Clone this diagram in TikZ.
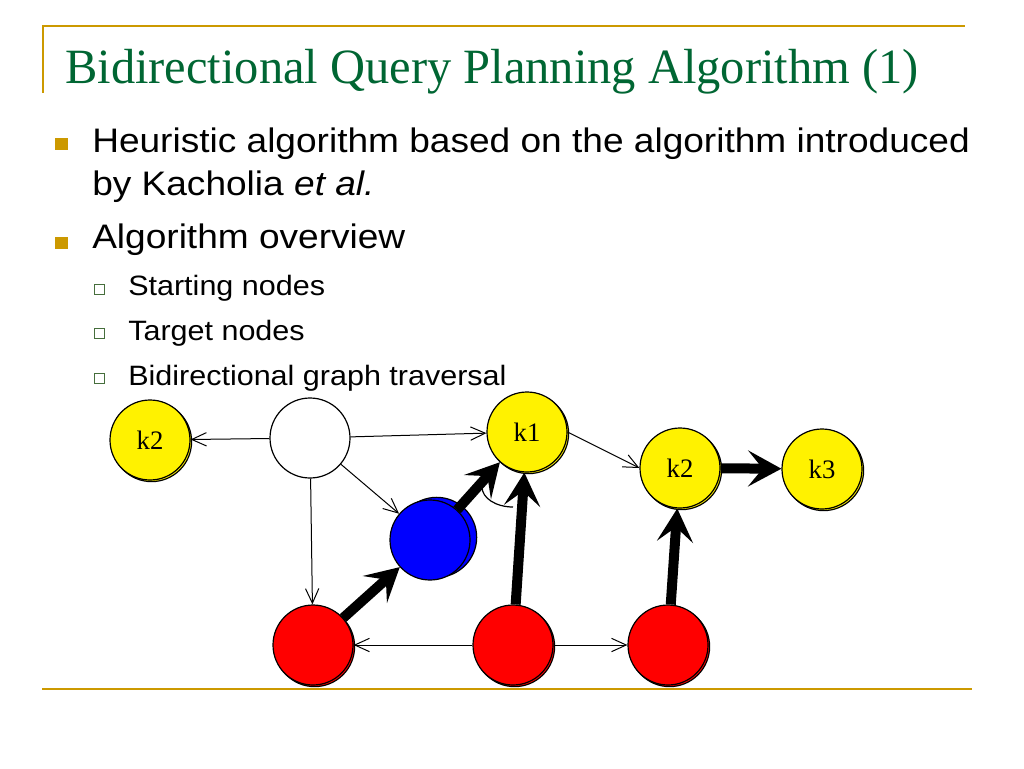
\documentclass[tikz,border=0pt]{standalone}
\usepackage{fontspec}
\setmainfont{Liberation Serif}
\newfontfamily\arialf{Liberation Sans}
\usetikzlibrary{arrows.meta,shadows}
\definecolor{gold}{RGB}{204,153,0}
\definecolor{titlegreen}{RGB}{0,102,51}
\definecolor{subgreen}{RGB}{70,110,60}
\newcommand{\hs}[1]{\scalebox{1.09}[1]{#1}}
\begin{document}
\begin{tikzpicture}[x=0.75pt,y=-0.75pt,
  rule/.style={draw=gold,line width=1.5pt},
  body/.style={anchor=base west,inner sep=0,font=\arialf\fontsize{25.5}{30}\selectfont},
  subtext/.style={anchor=base west,inner sep=0,font=\arialf\fontsize{21}{25}\selectfont},
  mainbullet/.style={fill=gold,minimum size=9.5pt,inner sep=0},
  subbullet/.style={draw=subgreen,fill=white,line width=0.6pt,minimum size=7.5pt,inner sep=0,
     drop shadow={shadow xshift=0.8pt,shadow yshift=-0.8pt,fill=gray!60,opacity=1}},
  vert/.style={circle,draw=black,line width=0.9pt,minimum size=60pt,inner sep=0,
     font=\fontsize{20}{24}\selectfont},
  yel/.style={vert,fill=yellow,copy shadow={shadow xshift=1.2pt,shadow yshift=-1.2pt}},
  redv/.style={vert,fill=red,copy shadow={shadow xshift=1.2pt,shadow yshift=-1.2pt}},
  bluev/.style={vert,fill=blue,copy shadow={shadow xshift=5pt,shadow yshift=2pt}},
  thin/.style={line width=0.75pt,-{Straight Barb[length=11pt,width=10pt]}},
  thick/.style={line width=7.5pt,-{Stealth[length=25pt,width=27pt,inset=11pt]}}
]
\useasboundingbox[fill=white] (0,0) rectangle (1024,768);
% rules
\draw[rule] (42,26) -- (965,26);
\draw[rule] (43,26) -- (43,93);
\draw[rule] (42,689) -- (972,689);
% title
\node[anchor=base west,inner sep=0,text=titlegreen] (title) at (65,83)
  {\resizebox{640pt}{\height}{\fontsize{37}{42}\selectfont Bidirectional Query Planning Algorithm (1)}};
% bullets
\node[mainbullet] (b1) at (61.5,144) {};
\node[mainbullet] (b2) at (61.5,243) {};
\node[subbullet] (s1) at (99,289) {};
\node[subbullet] (s2) at (99,333) {};
\node[subbullet] (s3) at (99,378) {};
\node[body] (t1) at (92,152) {\hs{Heuristic algorithm based on the algorithm introduced}};
\node[body] (t2) at (92,195) {\hs{by Kacholia \textit{et al.}}};
\node[body] (t3) at (92,248) {\hs{Algorithm overview}};
\node[subtext] (t4) at (128,295) {\hs{Starting nodes}};
\node[subtext] (t5) at (128,340) {\hs{Target nodes}};
\node[subtext] (t6) at (128,385) {\hs{Bidirectional graph traversal}};
% graph nodes
\node[yel] (k2a) at (150,440) {k2};
\node[vert,fill=white] (w) at (310,438) {};
\node[yel] (k1) at (527,432) {k1};
\node[bluev] (b) at (430,540) {};
\node[redv] (r1) at (313,645) {};
\node[redv] (r2) at (513,645) {};
\node[redv] (r3) at (668,645) {};
\node[yel] (k2b) at (680,468) {k2};
\node[yel] (k3) at (822,469) {k3};
% edges
\draw[thin] (w) -- (k2a);
\draw[thin] (w) -- (k1);
\draw[thin] (w) -- (b);
\draw[thin] (w) -- (r1);
\draw[thin] (k1.east) -- (k2b.west);
\draw[thin] (r2) -- (r1);
\draw[thin] (r2) -- (r3);
\draw[thick] (r1) -- (b);
\draw[thick] (b) -- (k1);
\draw[thick] (r2) -- (k1);
\draw[thick] (r3) -- (k2b);
\draw[thick] (k2b) -- (k3);
\draw[line width=0.9pt] (482,487) arc[start angle=180,end angle=90,x radius=31,y radius=20];
\end{tikzpicture}
\end{document}
